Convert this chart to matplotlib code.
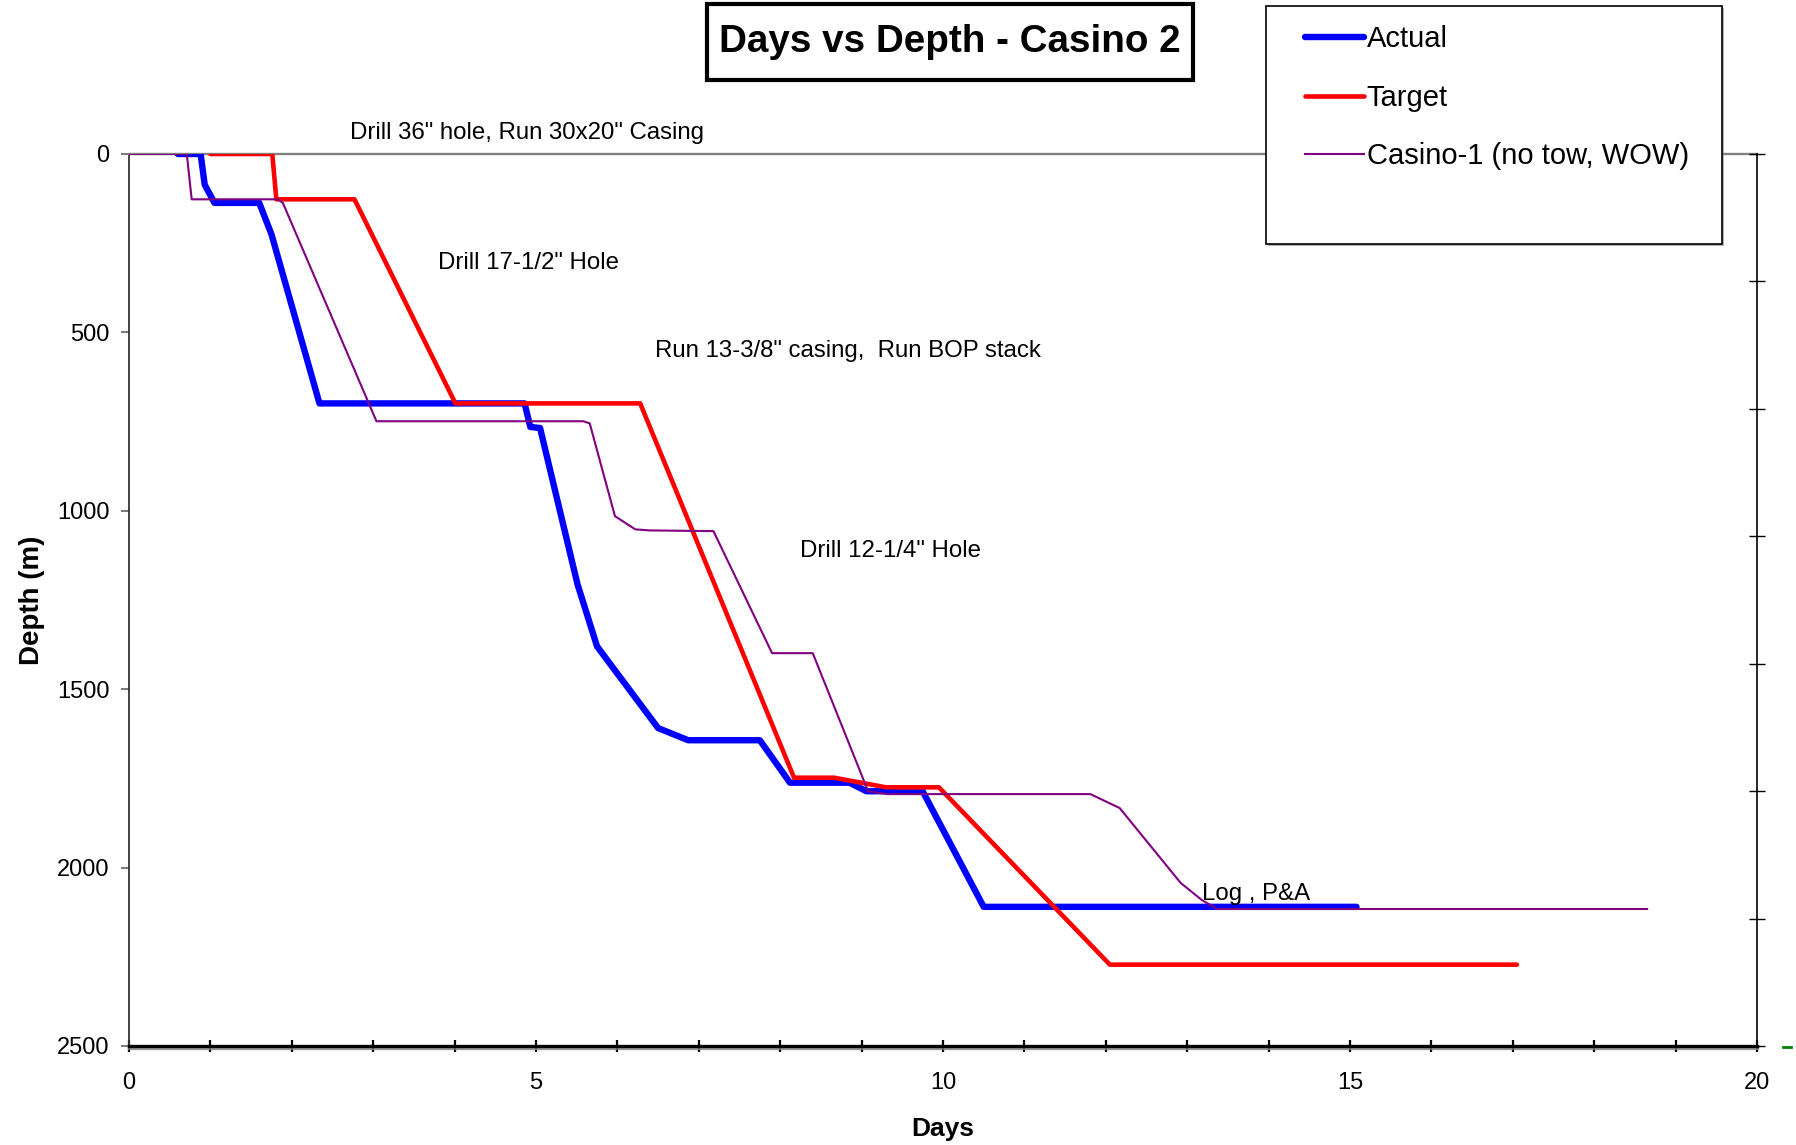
import numpy as np
import matplotlib.pyplot as plt
import matplotlib.patheffects as pe
from matplotlib.lines import Line2D
from matplotlib.patches import Rectangle

plt.rcParams['font.family'] = ['Liberation Sans', 'DejaVu Sans']

# Casino 2 actual progress
actual_days = [0.6, 0.88, 0.93, 1.05, 1.60, 1.75, 2.34, 4.86, 4.93, 5.05, 5.51, 5.75, 6.50, 6.87, 7.75, 8.12, 8.85, 9.06, 9.75, 10.50, 15.08]
actual_depth = [0, 0, 86, 137, 137, 225, 699, 699, 765, 768, 1206, 1380, 1609, 1643, 1643, 1762, 1762, 1786, 1786, 2110, 2110]

# planned curve
target_days = [1.0, 1.76, 1.81, 2.77, 4.01, 6.28, 8.17, 8.66, 9.30, 9.95, 12.05, 17.05]
target_depth = [0, 0, 127, 127, 699, 699, 1748, 1748, 1775, 1775, 2272, 2272]

# offset well Casino-1
casino1_days = [0, 0.71, 0.77, 1.83, 1.89, 3.04, 5.58, 5.66, 5.97, 6.22, 6.40, 7.18, 7.90, 8.40, 9.08, 9.32, 11.81, 12.17, 12.92, 13.18, 13.37, 18.65]
casino1_depth = [0, 0, 127, 127, 137, 749, 749, 755, 1015, 1052, 1055, 1057, 1399, 1399, 1786, 1794, 1794, 1833, 2043, 2091, 2116, 2116]

# operations notes (day, depth)
notes = ['Drill 36" hole, Run 30x20" Casing', 'Drill 17-1/2" Hole', 'Run 13-3/8" casing,  Run BOP stack',
         'Drill 12-1/4" Hole', 'Log , P&A']
note_days = [2.72, 3.80, 6.46, 8.24, 13.18]
note_depths = [-58, 305, 552, 1114, 2074]

W, H = 1796, 1145
fig = plt.figure(figsize=(W / 100, H / 100), dpi=100)
ax = fig.add_axes([129 / W, 1 - 1046 / H, (1757 - 129) / W, (1046 - 154) / H])

ax.plot(actual_days, actual_depth, color='#0000ff', lw=4.6, solid_capstyle='round', solid_joinstyle='round', zorder=3)
ax.plot(target_days, target_depth, color='#ff0000', lw=3.3, solid_capstyle='round', solid_joinstyle='round', zorder=4)
ax.plot(casino1_days, casino1_depth, color='#800080', lw=1.5, zorder=5)

ax.set_xlim(0, 20)
ax.set_ylim(2500, 0)

ax.set_xticks(np.arange(0, 21, 5))
ax.set_xticks(np.arange(0, 21, 1), minor=True)
ax.tick_params(axis='x', which='both', direction='inout', length=9, width=1.6, color='black',
               labelsize=17, pad=14.5)
ax.set_yticks(np.arange(0, 2501, 500))
ax.tick_params(axis='y', which='major', direction='out', length=6, width=1.1, color='#555555',
               labelsize=17, pad=8)

ax.spines['right'].set_visible(False)
ax.spines['top'].set_color('#808080')
ax.spines['top'].set_linewidth(1.7)
ax.spines['bottom'].set_color('black')
ax.spines['bottom'].set_linewidth(2.4)
ax.spines['bottom'].set_path_effects([pe.SimpleLineShadow(offset=(0, -1.2), shadow_color='gray', alpha=0.8),
                                      pe.Normal()])
ax.spines['left'].set_color('#333333')
ax.spines['left'].set_linewidth(1.3)

# secondary depth scale on the right, 7 divisions, no labels
ax2 = ax.twinx()
ax2.set_ylim(2500, 0)
ax2.set_yticks(np.linspace(0, 2500, 8))
ax2.tick_params(axis='y', direction='inout', length=12, width=1.0, color='black', labelright=False)
for side in ['left', 'top', 'bottom']:
    ax2.spines[side].set_visible(False)
ax2.spines['right'].set_color('black')
ax2.spines['right'].set_linewidth(1.2)

for txt, d, z in zip(notes, note_days, note_depths):
    ax.text(d, z, txt, fontsize=17.3, ha='left', va='center', clip_on=False, zorder=6)

ax.set_xlabel('Days', fontsize=19, fontweight='bold', labelpad=16)
ax.set_ylabel('Depth (m)', fontsize=20, fontweight='bold', labelpad=9)

# title box
fig.add_artist(Rectangle((707 / W, 1 - 80 / H), (1193 - 707) / W, (80 - 4) / H, transform=fig.transFigure,
                         facecolor='white', edgecolor='black', lw=3.0, zorder=10))
fig.text(950 / W, 1 - 42 / H, 'Days vs Depth - Casino 2', fontsize=27.8, fontweight='bold',
         ha='center', va='center', zorder=11)

# legend box
fig.add_artist(Rectangle((1266 / W, 1 - 244 / H), (1722 - 1266) / W, (244 - 6) / H, transform=fig.transFigure,
                         facecolor='white', edgecolor='black', lw=1.2, zorder=10,
                         path_effects=[pe.SimplePatchShadow(offset=(1.5, -1.5), shadow_rgbFace='gray', alpha=0.6),
                                       pe.Normal()]))
leg = fig.legend(handles=[Line2D([], [], color='#0000ff', lw=4.6, solid_capstyle='round'),
                          Line2D([], [], color='#ff0000', lw=3.3, solid_capstyle='round'),
                          Line2D([], [], color='#800080', lw=1.5)],
                 labels=['Actual', 'Target', 'Casino-1 (no tow, WOW)'],
                 loc='upper left', bbox_to_anchor=(1285 / W, 1 - 5 / H), frameon=False,
                 fontsize=21, handlelength=2.0, handletextpad=0.1, labelspacing=1.04, borderpad=0.2)
leg.set_zorder(12)

# stray marker right of the axis end
fig.add_artist(Line2D([1783 / W, 1791 / W], [1 - 1047 / H, 1 - 1047 / H], color='#008000', lw=2,
                      transform=fig.transFigure))

fig.savefig('out.png', dpi=100)
